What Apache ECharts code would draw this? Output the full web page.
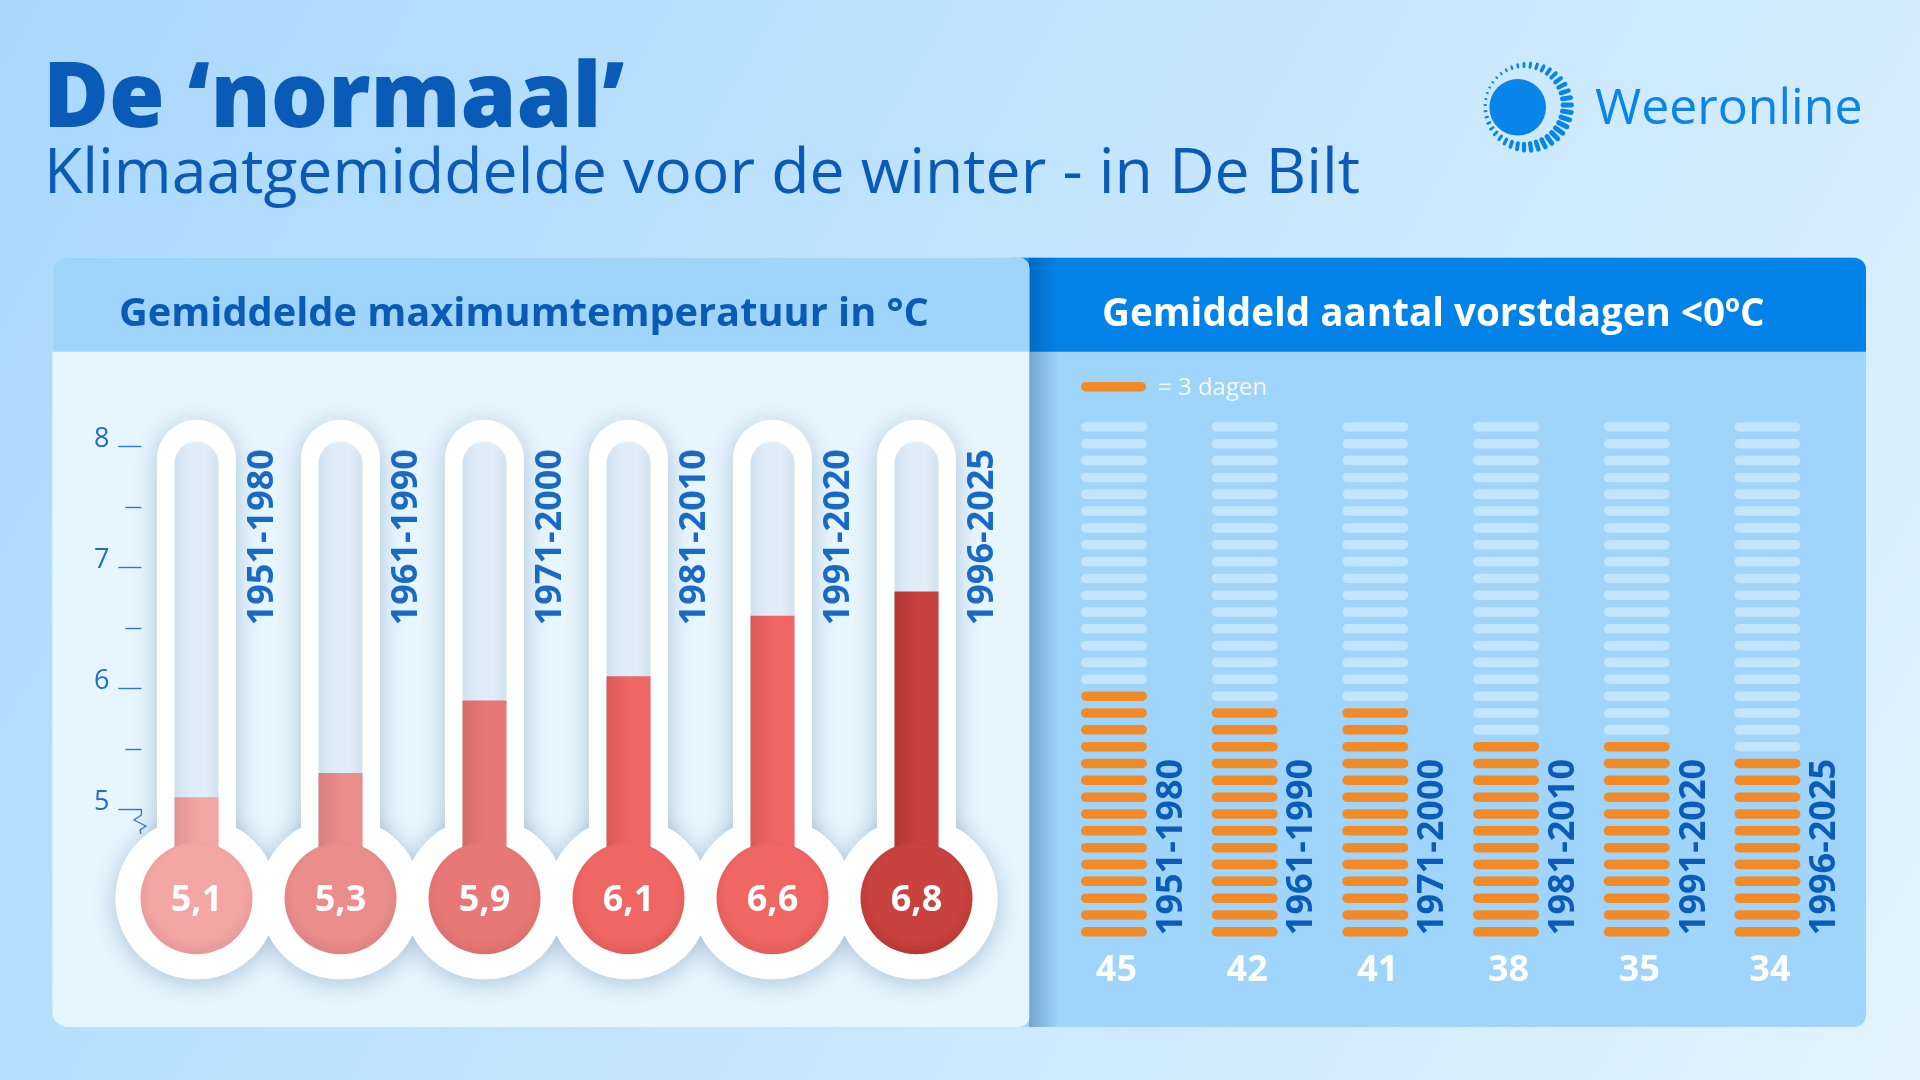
<!DOCTYPE html>
<html>
<head>
<meta charset="utf-8">
<script src="https://cdn.jsdelivr.net/npm/echarts@6/dist/echarts.min.js"></script>
<style>
html,body{margin:0;padding:0;background:#c4e5fd;}
#chart{width:1920px;height:1080px;}
</style>
</head>
<body>
<div id="chart"></div>
<script>
// ---------- DATA ----------
const periods = ['1951-1980', '1961-1990', '1971-2000', '1981-2010', '1991-2020', '1996-2025'];
const maxTemp = [5.1, 5.3, 5.9, 6.1, 6.6, 6.8];          // gemiddelde maximumtemperatuur (°C)
const tempTickValues = [5, 6, 7, 8];                      // y-axis ticks
const frostDays = [45, 42, 41, 38, 35, 34];              // gemiddeld aantal vorstdagen
const frostPills = [15, 14, 14, 12, 12, 11];             // filled pills as drawn (1 pill = 3 dagen)
const pillSlots = 31;                                     // pills per column

// ---------- STYLE ----------
const FONT = '"Open Sans", "Noto Sans", sans-serif';
const bulbLight = ['#f3a6a4', '#ea8d8b', '#e87875', '#ef6764', '#ef6663', '#c8423f'];
const bulbDark  = ['#e09393', '#d87f7e', '#d66b69', '#dc5956', '#dd5956', '#b23532'];

const tMin = tempTickValues[0], tMax = tempTickValues[tempTickValues.length - 1];

function thermoGeom(api) {
  const i = api.value(0);
  const cx = api.coord([i, api.value(1)])[0];
  const yTop = api.coord([i, tMax])[1];
  const yBase = api.coord([i, tMin])[1];
  const yVal = api.coord([i, api.value(1)])[1];
  return { i, cx, yTop, yBase, yVal, bulbY: yBase + 89 };
}

function shellChildren(g, style) {
  const top = g.yTop - 26.5;
  return [
    { type: 'rect', shape: { x: g.cx - 39.5, y: top, width: 79, height: g.bulbY - top, r: [39.5, 39.5, 0, 0] }, style: style },
    { type: 'circle', shape: { cx: g.cx, cy: g.bulbY, r: 81 }, style: style }
  ];
}

const chart = echarts.init(document.getElementById('chart'), null, { renderer: 'canvas', width: 1920, height: 1080 });

// sun logo dashes
const sunDashes = [];
(function () {
  const cx = 1524, cy = 105, n = 40;
  for (let k = 0; k < n; k++) {
    const a = k * 2 * Math.PI / n;
    const w = (1 + Math.cos(a - 0.45)) / 2;
    const len = 3 + 11 * w;
    const th = 1.8 + 3.2 * w;
    const rm = 38.5 + 5 * w;
    sunDashes.push({
      type: 'rect',
      x: cx + rm * Math.cos(a), y: cy + rm * Math.sin(a),
      rotation: -a,
      shape: { x: -len / 2, y: -th / 2, width: len, height: th, r: th / 2 },
      style: { fill: '#0984e8' }
    });
  }
})();

const option = {
  backgroundColor: {
    type: 'linear', x: 0, y: 0, x2: 1, y2: 1,
    colorStops: [{ offset: 0, color: '#a8d8fd' }, { offset: 0.55, color: '#c8e7fd' }, { offset: 1, color: '#e2f3fe' }]
  },
  animation: false,
  graphic: [
    // right panel
    { type: 'rect', z: 0, shape: { x: 1000, y: 257.7, width: 866, height: 769.3, r: 12 }, style: { fill: '#9fd4fb' } },
    { type: 'rect', z: 0, shape: { x: 1000, y: 257.7, width: 866, height: 94, r: [12, 12, 0, 0] }, style: { fill: '#0383e8' } },
    { type: 'rect', z: 1, shape: { x: 1029, y: 257.7, width: 30, height: 769.3 },
      style: { fill: { type: 'linear', x: 0, y: 0, x2: 1, y2: 0, colorStops: [{ offset: 0, color: 'rgba(0,40,100,0.28)' }, { offset: 1, color: 'rgba(0,40,100,0)' }] } } },
    // left panel
    { type: 'rect', z: 1, shape: { x: 52.3, y: 257.7, width: 977, height: 769.3, r: [15, 10, 10, 15] }, style: { fill: '#e7f5fe' } },
    { type: 'rect', z: 1, shape: { x: 52.3, y: 257.7, width: 977, height: 94, r: [15, 10, 0, 0] }, style: { fill: '#a0d5fb' } },
    // titles
    { type: 'text', z: 10, x: 43, y: 101, style: { text: 'De ‘normaal’', fill: '#0a5bb7', font: '800 90px ' + FONT, align: 'left', verticalAlign: 'middle' } },
    { type: 'text', z: 10, x: 44, y: 175, style: { text: 'Klimaatgemiddelde voor de winter - in De Bilt', fill: '#0a5bb7', font: '400 62.5px ' + FONT, align: 'left', verticalAlign: 'middle' } },
    // logo
    { type: 'circle', z: 10, shape: { cx: 1517.7, cy: 107.3, r: 28.3 }, style: { fill: '#0984e8' } },
    { type: 'group', z: 10, children: sunDashes },
    { type: 'text', z: 10, x: 1595, y: 110, style: { text: 'Weeronline', fill: '#0984e8', font: '500 50px ' + FONT, align: 'left', verticalAlign: 'middle' } },
    // panel headers
    { type: 'text', z: 10, x: 119, y: 315, style: { text: 'Gemiddelde maximumtemperatuur in °C', fill: '#0a5bb7', font: '700 39.75px ' + FONT, align: 'left', verticalAlign: 'middle' } },
    { type: 'text', z: 10, x: 1102, y: 315, style: { text: 'Gemiddeld aantal vorstdagen <0ºC', fill: '#ffffff', font: '700 38.6px ' + FONT, align: 'left', verticalAlign: 'middle' } },
    // legend
    { type: 'rect', z: 10, shape: { x: 1081, y: 382, width: 65, height: 9.5, r: 4.75 }, style: { fill: '#f28a27' } },
    { type: 'text', z: 10, x: 1158, y: 388, style: { text: '= 3 dagen', fill: '#f4faff', font: '400 24px ' + FONT, align: 'left', verticalAlign: 'middle' } },
    // axis break zigzag
    { type: 'polyline', z: 10, shape: { points: [[141.4, 809.3], [141.4, 815], [134, 820], [146, 826], [140, 830], [141, 834]] }, style: { stroke: '#2d78c8', lineWidth: 1.3, fill: null } }
  ],
  grid: [
    { left: 124.5, width: 864, top: 446.3, height: 363, containLabel: false },
    { left: 1048.6, width: 784.2, top: 418.5, height: 521.7, containLabel: false }
  ],
  xAxis: [
    { type: 'category', gridIndex: 0, data: periods, show: false },
    { type: 'category', gridIndex: 1, data: periods, show: false }
  ],
  yAxis: [
    {
      type: 'value', gridIndex: 0, min: tMin, max: tMax, interval: 1, offset: -16.9, z: 20,
      axisLine: { show: false },
      axisTick: { show: true, length: 23, lineStyle: { color: '#2d78c8', width: 1.4 } },
      minorTick: { show: true, splitNumber: 2, length: 16, lineStyle: { color: '#2d78c8', width: 1.4 } },
      splitLine: { show: false },
      minorSplitLine: { show: false },
      axisLabel: { color: '#1f6fc6', fontFamily: FONT, fontSize: 27, margin: 32, verticalAlign: 'bottom', lineHeight: 14 }
    },
    { type: 'value', gridIndex: 1, min: 0, max: pillSlots, show: false }
  ],
  series: [
    {
      type: 'custom', xAxisIndex: 0, yAxisIndex: 0, z: 3, clip: false,
      data: maxTemp.map((v, i) => [i, v]),
      renderItem: function (params, api) {
        const g = thermoGeom(api);
        return { type: 'group', children: shellChildren(g, { fill: '#ffffff', shadowBlur: 24, shadowColor: 'rgba(40,90,140,0.32)', shadowOffsetY: 4 }) };
      }
    },
    {
      type: 'custom', xAxisIndex: 0, yAxisIndex: 0, z: 4, clip: false,
      data: maxTemp.map((v, i) => [i, v]),
      renderItem: function (params, api) {
        const g = thermoGeom(api);
        return { type: 'group', children: shellChildren(g, { fill: '#ffffff' }) };
      }
    },
    {
      type: 'custom', xAxisIndex: 0, yAxisIndex: 0, z: 5, clip: false,
      data: maxTemp.map((v, i) => [i, v]),
      renderItem: function (params, api) {
        const g = thermoGeom(api);
        const i = params.dataIndex;
        const innerTop = g.yTop - 4.8;
        const label = api.value(1).toFixed(1).replace('.', ',');
        return {
          type: 'group', children: [
            { type: 'rect', shape: { x: g.cx - 22, y: innerTop, width: 44, height: g.bulbY - innerTop, r: [22, 22, 0, 0] },
              style: { fill: { type: 'linear', x: 0, y: 0, x2: 1, y2: 0, colorStops: [{ offset: 0, color: '#cfe0ef' }, { offset: 0.35, color: '#dfedf8' }, { offset: 0.7, color: '#e1eef8' }, { offset: 1, color: '#d2e2ef' }] } } },
            { type: 'rect', shape: { x: g.cx - 22, y: g.yVal, width: 44, height: g.bulbY - g.yVal },
              style: { fill: { type: 'linear', x: 0, y: 0, x2: 1, y2: 0, colorStops: [{ offset: 0, color: bulbDark[i] }, { offset: 0.55, color: bulbLight[i] }, { offset: 1, color: bulbLight[i] }] } } },
            { type: 'circle', shape: { cx: g.cx, cy: g.bulbY, r: 56 },
              style: { fill: { type: 'radial', x: 0.5, y: 0.45, r: 0.6, colorStops: [{ offset: 0, color: bulbLight[i] }, { offset: 0.7, color: bulbLight[i] }, { offset: 1, color: bulbDark[i] }] } } },
            { type: 'text', x: g.cx, y: g.bulbY + 2.5, style: { text: label, fill: '#ffffff', font: '700 36px ' + FONT, align: 'center', verticalAlign: 'middle' } },
            { type: 'text', x: g.cx + 66, y: g.yBase - 184, rotation: Math.PI / 2,
              style: { text: periods[i], fill: '#1a6ac5', font: '700 36px ' + FONT, align: 'left', verticalAlign: 'middle' } }
          ]
        };
      }
    },
    {
      type: 'custom', xAxisIndex: 1, yAxisIndex: 1, z: 5, clip: false,
      data: frostDays.map((d, i) => [i, frostPills[i], d]),
      renderItem: function (params, api) {
        const i = api.value(0);
        const filled = api.value(1);
        const days = api.value(2);
        const base = api.coord([i, 0]);
        const cx = base[0];
        const children = [];
        for (let k = 0; k < pillSlots; k++) {
          const c = api.coord([i, k + 0.5]);
          children.push({ type: 'rect', shape: { x: cx - 33, y: c[1] - 4.75, width: 66, height: 9.5, r: 4.75 },
            style: { fill: k < filled ? '#f28a27' : '#c3e5fd' } });
        }
        children.push({ type: 'text', x: cx + 2.5, y: base[1] + 30.5, style: { text: String(days), fill: '#ffffff', font: '700 36px ' + FONT, align: 'center', verticalAlign: 'middle' } });
        children.push({ type: 'text', x: cx + 57.5, y: base[1] - 5, rotation: Math.PI / 2,
          style: { text: periods[params.dataIndex], fill: '#0b5cb8', font: '700 36px ' + FONT, align: 'left', verticalAlign: 'middle' } });
        return { type: 'group', children: children };
      }
    }
  ]
};
chart.setOption(option);
</script>
</body>
</html>
